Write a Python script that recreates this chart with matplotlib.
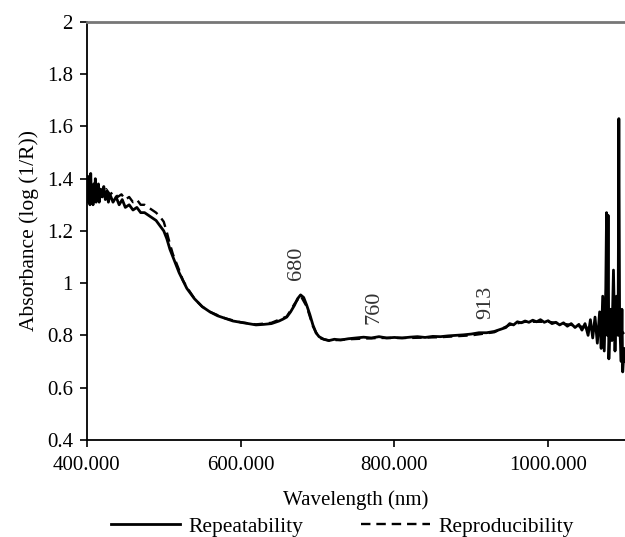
import numpy as np
import matplotlib
matplotlib.use("Agg")
import matplotlib.pyplot as plt

# =========================================================
# DATA
# =========================================================
wl_rep = [400, 401, 402, 403, 404, 405, 406, 407, 408, 409, 410, 411, 412, 413, 414, 415, 416, 418,
          420, 422, 424, 426, 428, 430,
          434, 438, 442, 446, 450, 455, 460, 465, 470, 475, 480, 485, 490, 495, 500,
          504, 508, 512, 516, 520, 525, 530, 535, 540, 545, 550, 560, 570, 580, 590, 600,
          610, 620, 630, 640, 645, 650, 655, 660, 665, 670, 674, 678, 682, 686, 690, 694,
          698, 702, 708, 715, 722, 730, 740, 750, 760, 770, 780, 790, 800, 810, 820, 830,
          840, 850, 860, 870, 880, 890, 900, 910, 920, 930, 940, 945, 950, 955, 960, 965,
          970, 975, 980, 985, 990, 995, 1000, 1005, 1010, 1015, 1020, 1025, 1030, 1035,
          1040, 1044, 1048, 1052, 1055, 1058, 1061, 1064, 1067, 1069, 1071, 1073, 1075,
          1076, 1077, 1078, 1079, 1081, 1083, 1085, 1087, 1089, 1091, 1092, 1093, 1095,
          1096, 1097, 1099, 1100]
abs_rep = [1.33, 1.41, 1.31, 1.39, 1.30, 1.42, 1.32, 1.36, 1.30, 1.38, 1.33, 1.40, 1.31, 1.37, 1.32, 1.38, 1.31, 1.36,
           1.33, 1.37, 1.32, 1.35, 1.31, 1.34,
           1.31, 1.33, 1.30, 1.32, 1.29, 1.30, 1.28, 1.29, 1.27, 1.27, 1.26, 1.25, 1.24, 1.22, 1.20,
           1.17, 1.13, 1.10, 1.07, 1.04, 1.01, 0.98, 0.96, 0.94, 0.925, 0.91, 0.89, 0.875, 0.865, 0.855, 0.85,
           0.845, 0.84, 0.842, 0.845, 0.85, 0.855, 0.862, 0.87, 0.89, 0.915, 0.94, 0.955, 0.945, 0.915, 0.88, 0.84,
           0.81, 0.795, 0.785, 0.78, 0.785, 0.782, 0.787, 0.79, 0.793, 0.79, 0.795, 0.79, 0.792, 0.79, 0.793, 0.795,
           0.792, 0.796, 0.795, 0.798, 0.80, 0.802, 0.805, 0.81, 0.81, 0.815, 0.825, 0.83, 0.845, 0.84, 0.852, 0.848,
           0.855, 0.85, 0.858, 0.852, 0.86, 0.85, 0.856, 0.845, 0.85, 0.84, 0.848, 0.835, 0.845, 0.83,
           0.842, 0.82, 0.845, 0.80, 0.86, 0.79, 0.87, 0.77, 0.89, 0.75, 0.95, 0.74, 0.98,
           1.27, 0.80, 1.26, 0.71, 0.90, 0.78, 1.05, 0.74, 0.95, 0.80, 1.63, 0.85, 0.70,
           0.90, 0.66, 0.75, 0.70]

wl_rpd = [400, 403, 406, 409, 412, 416, 420, 425, 430, 435, 440, 445, 450, 455, 460, 465, 470,
          475, 480, 485, 490, 495, 500, 504, 508, 512, 516, 520, 525, 530, 540, 550, 560, 580,
          600, 620, 640, 660, 670, 678, 686, 694, 702, 715, 740, 780, 820, 860, 900, 930, 950,
          970, 1000, 1030, 1050, 1060, 1070, 1080, 1090, 1100]
abs_rpd = [1.34, 1.38, 1.33, 1.37, 1.34, 1.36, 1.34, 1.36, 1.34, 1.35, 1.33, 1.34, 1.32, 1.33, 1.31, 1.32, 1.30,
           1.30, 1.29, 1.28, 1.27, 1.255, 1.235, 1.195, 1.15, 1.11, 1.08, 1.05, 1.01, 0.985, 0.94, 0.91, 0.89, 0.865,
           0.85, 0.842, 0.848, 0.872, 0.92, 0.952, 0.91, 0.835, 0.79, 0.78, 0.785, 0.79, 0.79, 0.793, 0.80, 0.812, 0.84,
           0.852, 0.852, 0.84, 0.83, 0.82, 0.84, 0.82, 0.84, 0.80]

peak_labels = ["680", "760", "913"]
peak_x = [673, 774, 919]
peak_y = [1.077, 0.909, 0.928]

x_ticks = [400, 600, 800, 1000]
x_ticklabels = ["400.000", "600.000", "800.000", "1000.000"]
y_ticks = [0.4, 0.6, 0.8, 1.0, 1.2, 1.4, 1.6, 1.8, 2.0]
y_ticklabels = ["0.4", "0.6", "0.8", "1", "1.2", "1.4", "1.6", "1.8", "2"]

# =========================================================
# PLOT
# =========================================================
plt.rcParams["font.family"] = ["Liberation Serif", "DejaVu Serif"]

fig = plt.figure(figsize=(6.25, 5.37), dpi=100)
ax = fig.add_axes([0.139, 0.181, 0.861, 0.778])

ax.plot(wl_rpd, abs_rpd, color="black", linestyle=(0, (4, 2.5)), linewidth=1.7,
        label="Reproducibility", zorder=2)
ax.plot(wl_rep, abs_rep, color="black", linestyle="-", linewidth=2.0,
        label="Repeatability", zorder=3)

for txt, x, y in zip(peak_labels, peak_x, peak_y):
    ax.text(x, y, txt, rotation=90, ha="center", va="center",
            fontsize=16, color="#333333")

ax.set_xlim(400, 1100)
ax.set_ylim(0.4, 2.0)
ax.set_xticks(x_ticks)
ax.set_xticklabels(x_ticklabels)
ax.set_yticks(y_ticks)
ax.set_yticklabels(y_ticklabels)
ax.tick_params(direction="out", length=5, width=1.2, labelsize=15, pad=5)
ax.tick_params(axis="x", pad=7)

ax.spines["right"].set_visible(False)
ax.spines["top"].set_color("#777777")
ax.spines["top"].set_linewidth(2)
ax.spines["left"].set_linewidth(1.3)
ax.spines["bottom"].set_linewidth(1.3)

ax.set_xlabel("Wavelength (nm)", fontsize=15, labelpad=11)
ax.set_ylabel("Absorbance (log (1/R))", fontsize=15.5, labelpad=6)

handles, labels = ax.get_legend_handles_labels()
fig.legend(handles[::-1], labels[::-1], loc="lower center", ncol=2,
           bbox_to_anchor=(0.548, -0.036), frameon=False, fontsize=15.5,
           handlelength=3.2, columnspacing=2.7, handletextpad=0.4)

fig.savefig("out.png", dpi=100)
plt.close()
